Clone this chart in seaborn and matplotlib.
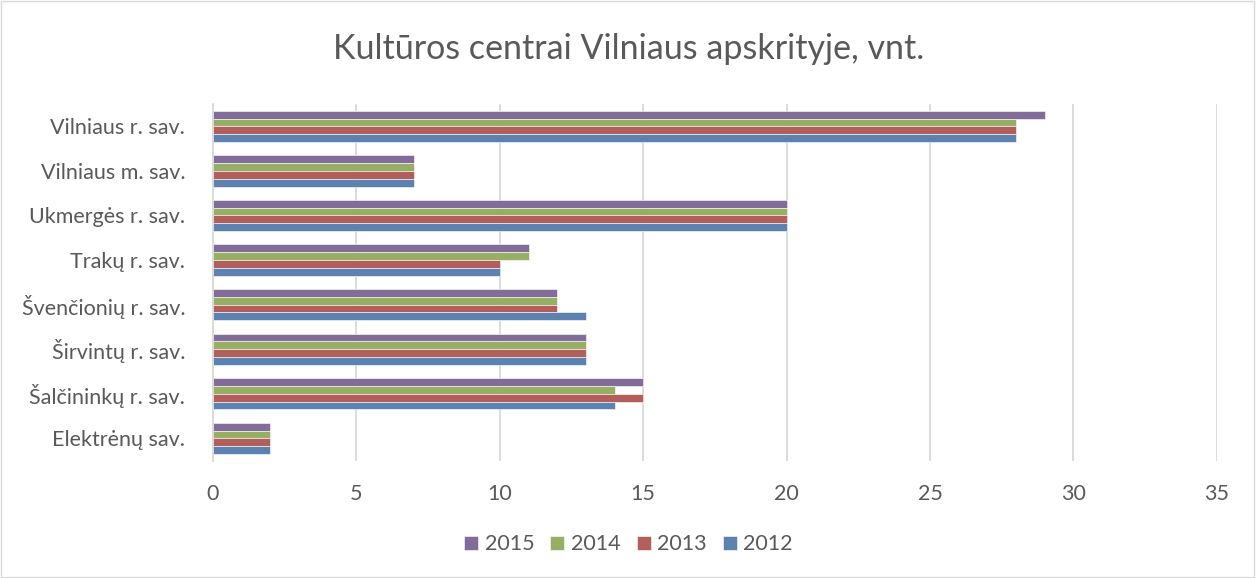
import pandas as pd
import seaborn as sns
import matplotlib.pyplot as plt
from matplotlib.patches import Rectangle

# Dane: kulturos centrai pagal savivaldybes
savivaldybes = ["Vilniaus r. sav.", "Vilniaus m. sav.", "Ukmergės r. sav.", "Trakų r. sav.",
                "Švenčionių r. sav.", "Širvintų r. sav.", "Šalčininkų r. sav.", "Elektrėnų sav."]
metai = ["2015", "2014", "2013", "2012"]
v2015 = [29, 7, 20, 11, 12, 13, 15, 2]
v2014 = [28, 7, 20, 11, 12, 13, 14, 2]
v2013 = [28, 7, 20, 10, 12, 13, 15, 2]
v2012 = [28, 7, 20, 10, 13, 13, 14, 2]
spalvos = ["#8064A2", "#9BBB59", "#C0504D", "#4F81BD"]

df = pd.DataFrame({
    "savivaldybe": savivaldybes * 4,
    "metai": [m for m in metai for _ in savivaldybes],
    "vnt": v2015 + v2014 + v2013 + v2012,
})

sns.set_style("white")
plt.rcParams["font.family"] = ["Lato", "DejaVu Sans"]
tekstas = "#595959"

fig = plt.figure(figsize=(12.57, 5.78), dpi=100)
ax = fig.add_axes([0.1695, 0.203, 0.7985, 0.617])

sns.barplot(data=df, x="vnt", y="savivaldybe", hue="metai", hue_order=metai,
            order=savivaldybes, palette=spalvos, orient="h", width=0.7,
            edgecolor="white", linewidth=0.4, ax=ax)

ax.set_xlim(0, 35)
ax.set_xticks(range(0, 36, 5))
ax.grid(axis="x", color="#D9D9D9", linewidth=1.3)
ax.set_axisbelow(True)
for s in ["top", "right", "bottom"]:
    ax.spines[s].set_visible(False)
ax.spines["left"].set_color("#D9D9D9")
ax.spines["left"].set_linewidth(1.3)
ax.tick_params(axis="both", length=0, labelsize=15.5, colors=tekstas)
ax.tick_params(axis="x", pad=17)
ax.tick_params(axis="y", pad=20)
ax.set_xlabel("")
ax.set_ylabel("")

ax.legend_.remove()
h, l = ax.get_legend_handles_labels()
fig.legend(h, l, loc="center", bbox_to_anchor=(0.5, 0.058), ncol=4, frameon=False,
           fontsize=15.5, labelcolor=tekstas, handlelength=0.65, handleheight=0.65,
           handletextpad=0.3, columnspacing=0.75)

fig.text(0.5, 0.915, "Kultūros centrai Vilniaus apskrityje, vnt.", ha="center", va="center",
         fontsize=24.5, color=tekstas)

fig.patches.append(Rectangle((0.001, 0.002), 0.997, 0.996, transform=fig.transFigure,
                             fill=False, edgecolor="#D9D9D9", linewidth=1))

fig.savefig("out.png", dpi=100)
